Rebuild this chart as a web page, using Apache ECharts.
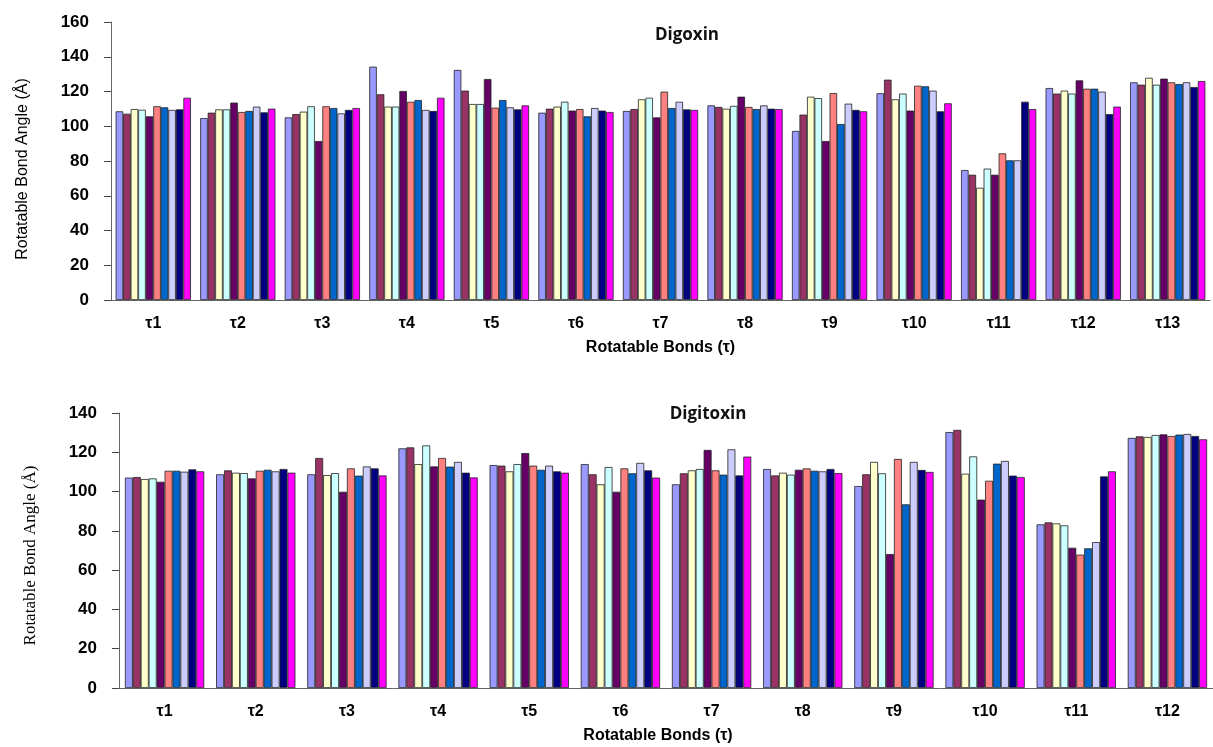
<!DOCTYPE html>
<html>
<head>
<meta charset="utf-8">
<script src="https://cdn.jsdelivr.net/npm/echarts@6/dist/echarts.min.js"></script>
<style>
  html, body { margin: 0; padding: 0; background: #fff; }
  #chart { width: 1213px; height: 747px; }
</style>
</head>
<body>
<div id="chart"></div>
<script>
// bar colours, one per structure (old Excel palette)
const colors = ['#9999FF', '#993366', '#FFFFCC', '#CCFFFF', '#660066',
                '#FF8080', '#0066CC', '#CCCCFF', '#000080', '#FF00FF'];

const digoxinBonds = ['τ1', 'τ2', 'τ3', 'τ4', 'τ5', 'τ6', 'τ7', 'τ8', 'τ9', 'τ10', 'τ11', 'τ12', 'τ13'];
const digitoxinBonds = ['τ1', 'τ2', 'τ3', 'τ4', 'τ5', 'τ6', 'τ7', 'τ8', 'τ9', 'τ10', 'τ11', 'τ12'];

// one row per rotatable bond, ten values each (one per colour)
const digoxin = [
    [108.6, 107.2, 109.9, 109.5, 105.7, 111.5, 110.9, 109.4, 109.7, 116.4],
    [104.7, 107.8, 109.7, 109.7, 113.6, 108.2, 108.8, 111.3, 108.0, 110.1],
    [105.1, 107.0, 108.4, 111.5, 91.5, 111.5, 110.5, 107.4, 109.4, 110.5],
    [134.3, 118.4, 111.3, 111.3, 120.3, 114.1, 115.1, 109.4, 108.8, 116.4],
    [132.4, 120.5, 112.8, 112.8, 127.2, 110.7, 115.1, 110.9, 109.7, 112.0],
    [107.8, 110.1, 111.3, 114.1, 109.0, 109.9, 105.7, 110.5, 109.0, 108.2],
    [108.8, 109.9, 115.5, 116.4, 105.1, 119.9, 110.5, 114.1, 109.7, 109.4],
    [112.0, 111.1, 110.1, 111.7, 117.0, 111.1, 109.9, 112.0, 110.1, 109.9],
    [97.3, 106.7, 117.0, 116.2, 91.5, 119.1, 101.3, 113.0, 109.4, 108.6],
    [119.0, 126.8, 115.5, 118.8, 109.0, 123.3, 123.0, 120.5, 108.6, 113.2],
    [74.8, 72.1, 64.6, 75.6, 72.1, 84.4, 80.4, 80.4, 114.1, 109.9],
    [122.0, 118.8, 120.5, 118.8, 126.4, 121.6, 121.6, 119.9, 107.0, 111.3],
    [125.3, 123.9, 127.9, 123.9, 127.4, 125.3, 124.3, 125.3, 122.6, 126.0]
];

const digitoxin = [
    [107.1, 107.4, 106.4, 106.7, 105.0, 110.6, 110.6, 110.1, 111.3, 110.3],
    [108.8, 110.8, 109.6, 109.4, 106.7, 110.6, 111.1, 110.3, 111.5, 109.6],
    [108.8, 117.1, 108.4, 109.4, 99.9, 111.8, 108.1, 112.8, 111.8, 108.2],
    [122.0, 122.5, 114.0, 123.5, 112.8, 117.1, 112.7, 115.1, 109.6, 107.2],
    [113.5, 113.2, 110.3, 114.0, 119.6, 113.2, 111.1, 113.2, 110.3, 109.6],
    [114.0, 108.8, 103.7, 112.5, 99.9, 111.8, 109.3, 114.6, 110.8, 107.1],
    [103.7, 109.3, 110.8, 111.5, 121.2, 110.8, 108.6, 121.5, 108.2, 117.8],
    [111.5, 108.2, 109.6, 108.6, 111.1, 111.8, 110.6, 110.3, 111.5, 109.4],
    [102.8, 108.8, 115.1, 109.3, 68.2, 116.6, 93.5, 115.1, 111.0, 110.0],
    [130.3, 131.4, 109.1, 117.9, 95.9, 105.5, 114.2, 115.6, 108.1, 107.4],
    [83.3, 84.3, 83.8, 82.8, 71.4, 67.9, 71.1, 74.3, 107.7, 110.3],
    [127.3, 128.1, 127.8, 128.8, 129.1, 128.3, 129.0, 129.3, 128.3, 126.6]
];

const sans = 'Liberation Sans, Arial, sans-serif';

function column(rows, i) {
    return rows.map(r => r[i]);
}

function buildSeries(rows, axisIndex, gap) {
    return colors.map((c, i) => ({
        type: 'bar',
        xAxisIndex: axisIndex,
        yAxisIndex: axisIndex,
        data: column(rows, i),
        barGap: '0%',
        barCategoryGap: gap,
        itemStyle: { color: c, borderColor: '#222', borderWidth: 0.8 },
        animation: false
    }));
}

function xAxisFor(cats, gridIndex, namePad) {
    return {
        type: 'category',
        gridIndex: gridIndex,
        data: cats,
        name: 'Rotatable Bonds (τ)',
        nameLocation: 'middle',
        nameGap: 40,
        nameTextStyle: { fontFamily: sans, fontWeight: 'bold', fontSize: 16, color: '#000', padding: namePad },
        axisLine: { lineStyle: { color: '#666', width: 1 } },
        axisTick: { alignWithLabel: false, length: 5, lineStyle: { color: '#444' } },
        axisLabel: { fontFamily: sans, fontWeight: 'bold', fontSize: 16, color: '#000', margin: 16 }
    };
}

function yAxisFor(max, gridIndex, nameFont, nameSize, gap, namePad) {
    return {
        type: 'value',
        gridIndex: gridIndex,
        min: 0,
        max: max,
        interval: 20,
        name: 'Rotatable Bond Angle (Å)',
        nameLocation: 'middle',
        nameGap: gap,
        nameTextStyle: { fontFamily: nameFont, fontSize: nameSize, color: '#000', padding: namePad },
        axisLine: { show: true, lineStyle: { color: '#666', width: 1 } },
        axisTick: { show: true, length: 7, lineStyle: { color: '#444' } },
        splitLine: { show: false },
        axisLabel: { fontFamily: sans, fontWeight: 'bold', fontSize: 17, color: '#000', margin: 22 }
    };
}

const chart = echarts.init(document.getElementById('chart'));

const option = {
    backgroundColor: '#fff',
    title: [
        {
            text: 'Digoxin', left: 682, top: 22, textAlign: 'center',
            textStyle: { fontFamily: 'Open Sans', fontWeight: 'bold', fontSize: 17, color: '#111' }
        },
        {
            text: 'Digitoxin', left: 703, top: 401, textAlign: 'center',
            textStyle: { fontFamily: 'Open Sans', fontWeight: 'bold', fontSize: 17, color: '#111' }
        }
    ],
    grid: [
        { left: 111, top: 22, width: 1099, height: 278 },
        { left: 119, top: 413, width: 1104, height: 275 }
    ],
    xAxis: [xAxisFor(digoxinBonds, 0, 0), xAxisFor(digitoxinBonds, 1, [0, 16, 0, 0])],
    yAxis: [
        yAxisFor(160, 0, sans, 16, 80, [0, 16, 0, 0]),
        yAxisFor(140, 1, 'Liberation Serif, Times New Roman, serif', 17, 80, [0, 10, 0, 0])
    ],
    series: buildSeries(digoxin, 0, '11%').concat(buildSeries(digitoxin, 1, '13%'))
};

chart.setOption(option);
</script>
</body>
</html>
